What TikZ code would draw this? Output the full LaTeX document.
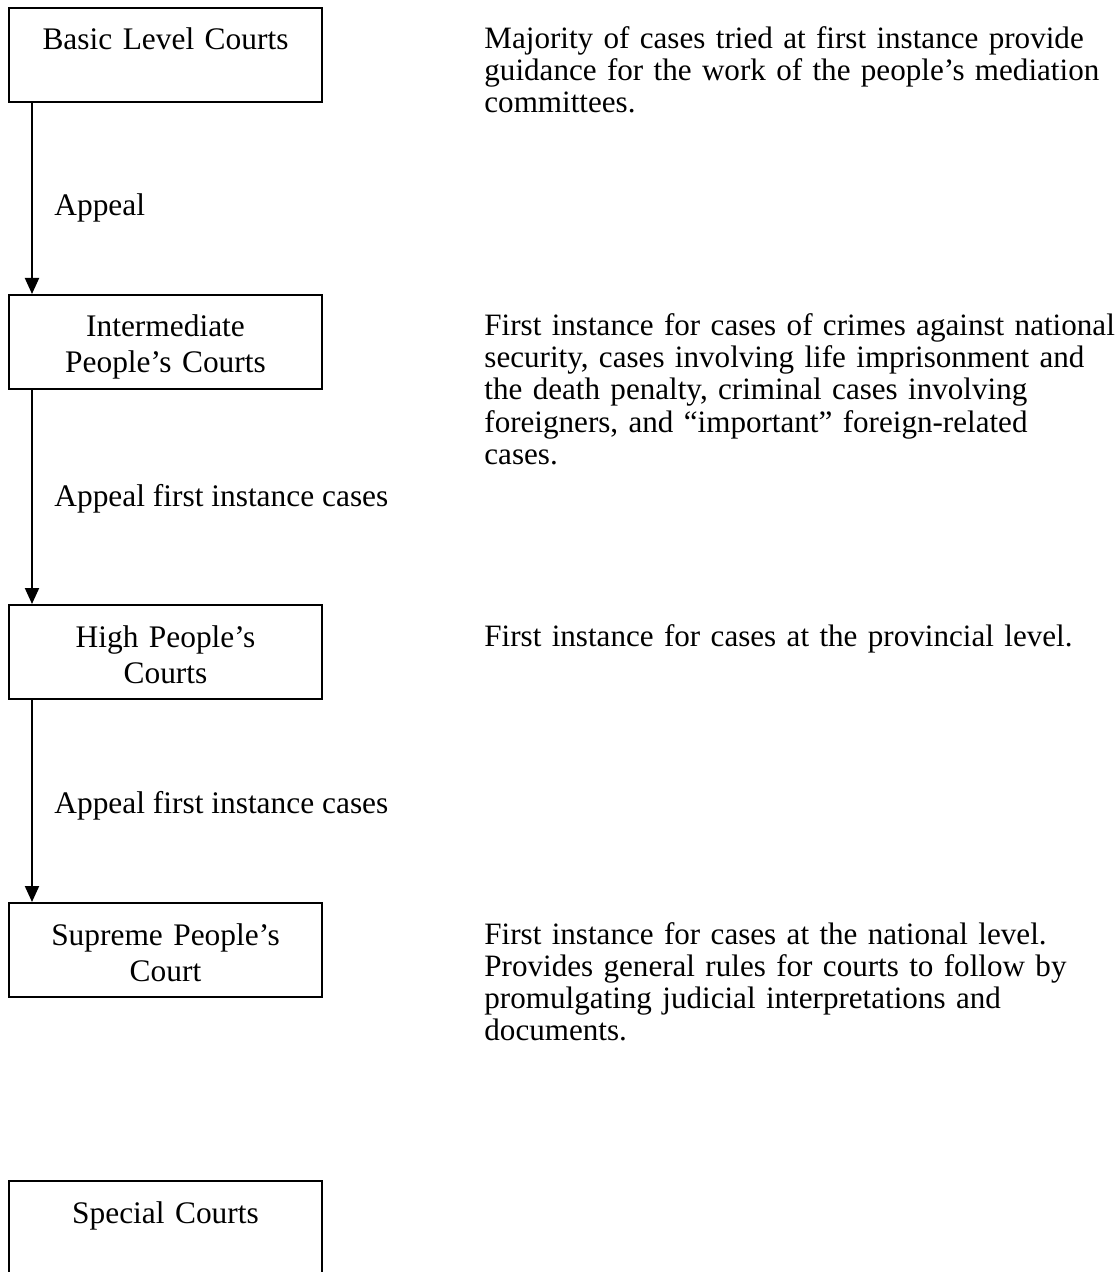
\documentclass[tikz,border=0pt]{standalone}
\usepackage{fontspec}
\setmainfont{Liberation Serif}
\usetikzlibrary{arrows.meta}

\begin{document}
\begin{tikzpicture}[
	x=0.5pt, y=-0.5pt,
	words/.style = {font=\fontsize{15.7pt}{18pt}\selectfont},
	court/.style = {words, draw, line width=1pt, rectangle, inner sep=0pt,
		minimum width=156.5pt, text width=150pt, align=center,
		text height=21pt, text depth=26pt},
	remark/.style = {font=\fontsize{15.55pt}{16pt}\selectfont, inner sep=0pt,
		text width=340pt, align=left, anchor=base west},
	appeal/.style = {words, inner sep=0pt, anchor=west},
	edge/.style = {line width=1pt, -{Triangle[width=7pt, length=8pt]}},
]

	%% Page size, the last box runs off the bottom
	\useasboundingbox (0,0) rectangle (1118,1272);

	%% The courts, top of each box given in \y
	\foreach \name/\y/\txt in {%
		basic/7/{Basic Level Courts},
		inter/294/{Intermediate\\People’s Courts},
		high/604/{High People’s\\Courts},
		supreme/902/{Supreme People’s\\Court},
		special/1180/{Special Courts}%
	}{%
		\node [court, anchor=north west] at (8, \y) (\name) {\txt};
	}

	%% The notes on the right, first baseline level with the box text
	\node [remark] at (484, 49) (basic-note) {Majority of cases tried at first instance provide\\
		guidance for the work of the people’s mediation\\
		committees.};
	\node [remark] at (484, 336) (inter-note) {First instance for cases of crimes against national\\
		security, cases involving life imprisonment and\\
		the death penalty, criminal cases involving\\
		foreigners, and “important” foreign-related\\
		cases.};
	\node [remark] at (484, 646) (high-note) {First instance for cases at the provincial level.};
	\node [remark] at (484, 944) (supreme-note) {First instance for cases at the national level.\\
		Provides general rules for courts to follow by\\
		promulgating judicial interpretations and\\
		documents.};

	%% The appeal arrows and their labels
	\foreach \from/\to/\ly/\txt in {%
		basic/inter/208/Appeal,
		inter/high/499/{Appeal first instance cases},
		high/supreme/806/{Appeal first instance cases}%
	}{%
		\draw [edge] ([xshift=12pt]\from.south west) -- ([xshift=12pt]\to.north west);
		\node [appeal] at (54, \ly) (\from-appeal) {\txt};
	}

\end{tikzpicture}
\end{document}
